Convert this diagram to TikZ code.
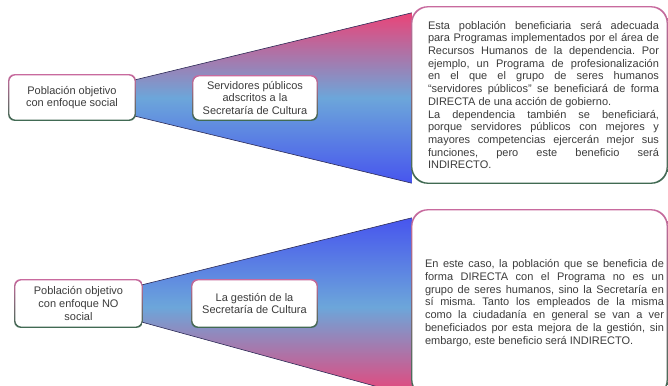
\documentclass[tikz,border=0pt]{standalone}
\usepackage{fontspec}
\setmainfont{Liberation Sans}
\usepackage{xcolor}
\usetikzlibrary{backgrounds}
\frenchspacing

\definecolor{rimpink}{HTML}{C86A9E}
\definecolor{rimgreen}{HTML}{3F6A52}
\definecolor{fpink}{HTML}{EA4478}
\definecolor{flight}{HTML}{6CA6DA}
\definecolor{fblue}{HTML}{4755EE}
\definecolor{txt}{HTML}{3C3C3C}
\definecolor{edge}{HTML}{2B2A55}

% borde con degradado (rosa arriba, verde abajo)
\newcommand{\rim}[2]{%
  \shade [top color=rimpink,bottom color=rimgreen,even odd rule,rounded corners=#2]
    ([shift={(-0.6pt,0.6pt)}]#1.north west) rectangle ([shift={(0.6pt,-0.6pt)}]#1.south east)
    ([shift={(0.6pt,-0.6pt)}]#1.north west) rectangle ([shift={(-0.6pt,0.6pt)}]#1.south east);}

\begin{document}
\begin{tikzpicture}[x=1pt,y=-1pt,font=\fontsize{11}{12.7}\selectfont]
    \tikzstyle{C}=[rectangle,rounded corners=6pt,fill=white,text=txt,align=center,inner sep=0pt]
    \tikzstyle{N}=[rectangle,rounded corners=16pt,fill=white,text=txt,inner sep=0pt]
    \tikzstyle{E}=[top color=fpink,bottom color=fblue,middle color=flight]

    \useasboundingbox (0,0) rectangle (668,385);
    \clip (0,0) rectangle (668,385);

    % Poblacion con enfoque social
    \node [C,minimum width=126pt,minimum height=45pt] (pob1) at (72,97.5) {Población objetivo\\con enfoque social};
    \node [C,minimum width=124pt,minimum height=44pt] (grupo1) at (255,98) {Servidores públicos\\adscritos a la\\Secretaría de Cultura};
    \node [N,minimum width=255pt,minimum height=176pt] (nota1) at (539.5,95) {\hspace*{8pt}\parbox{231pt}{\sloppy Esta población beneficiaria será adecuada\linebreak
        para Programas implementados por el área de\linebreak
        Recursos Humanos de la dependencia. Por\linebreak
        ejemplo, un Programa de profesionalización\linebreak
        en el que el grupo de seres humanos\linebreak
        “servidores públicos” se beneficiará de forma\linebreak
        DIRECTA de una acción de gobierno.\\
        La dependencia también se beneficiará,\linebreak
        porque servidores públicos con mejores y\linebreak
        mayores competencias ejercerán mejor sus\linebreak
        funciones, pero este beneficio será\linebreak
        INDIRECTO.}};
    \rim{pob1}{6pt}
    \rim{grupo1}{6pt}
    \rim{nota1}{16pt}

    % Poblacion con enfoque NO social
    \node [C,minimum width=127pt,minimum height=47pt] (pob2) at (78.5,303.5) {Población objetivo\\con enfoque NO\\social};
    \node [C,minimum width=125pt,minimum height=47pt] (grupo2) at (254.5,303.5) {La gestión de la\\Secretaría de Cultura};
    \node [N,minimum width=255pt,minimum height=186pt] (nota2) at (539.5,303) {\hspace*{10pt}\parbox{239pt}{\sloppy En este caso, la población que se beneficia de\linebreak
        forma DIRECTA con el Programa no es un\linebreak
        grupo de seres humanos, sino la Secretaría en\linebreak
        sí misma. Tanto los empleados de la misma\linebreak
        como la ciudadanía en general se van a ver\linebreak
        beneficiados por esta mejora de la gestión, sin\linebreak
        embargo, este beneficio será INDIRECTO.}};
    \rim{pob2}{6pt}
    \rim{grupo2}{6pt}
    \rim{nota2}{16pt}

    % Embudos
    \begin{scope}[on background layer]
    \shade [E] ([yshift=-5pt]pob1.north east) -- ([yshift=-6pt]nota1.north west) -- (nota1.south west) -- ([yshift=4pt]pob1.south east) -- cycle;
    \draw [edge,line width=0.6pt] ([yshift=-5pt]pob1.north east) -- ([yshift=-6pt]nota1.north west);
    \draw [edge,line width=0.6pt] ([yshift=4pt]pob1.south east) -- (nota1.south west);

    \shade [top color=fblue,bottom color=fpink,middle color=flight] ([yshift=-5pt]pob2.north east) -- ([yshift=-8pt]nota2.north west) -- (nota2.south west) -- ([yshift=5pt]pob2.south east) -- cycle;
    \draw [edge,line width=0.6pt] ([yshift=-5pt]pob2.north east) -- ([yshift=-8pt]nota2.north west);
    \draw [edge,line width=0.6pt] ([yshift=5pt]pob2.south east) -- (nota2.south west);
    \end{scope}

\end{tikzpicture}
\end{document}
